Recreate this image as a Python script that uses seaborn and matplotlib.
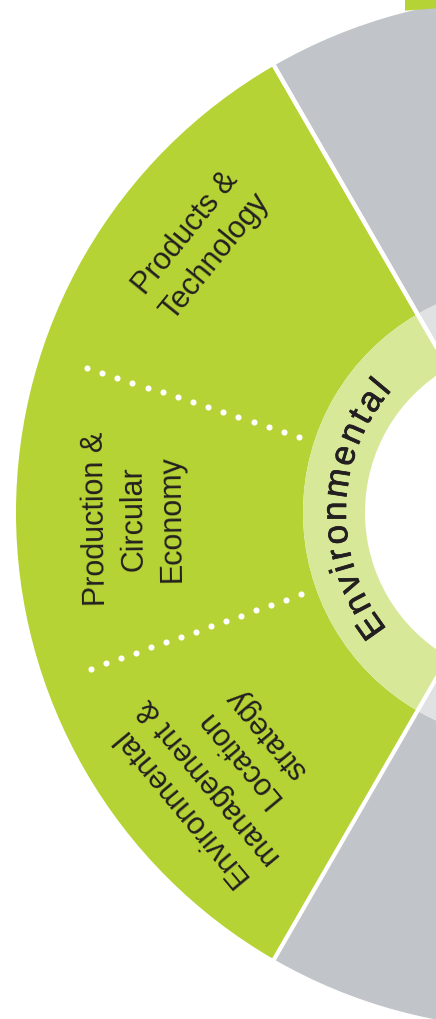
import numpy as np
import matplotlib
matplotlib.use('Agg')
import matplotlib.pyplot as plt
import matplotlib.patheffects as pe
from matplotlib.patches import Polygon
import seaborn as sns

# the three pillars of the wheel (only the left one is fully in the crop)
pillars = ['Environmental', 'Social', 'Governance']
pillar_share = [1, 1, 1]

# topics inside the Environmental pillar, share of its 120 degrees
topics = ['Products &\nTechnology',
          'Production &\nCircular\nEconomy',
          'Environmental\nmanagement &\nLocation\nstrategy']
topic_share = [42, 37.5, 40.5]

sns.set_theme(style='white')
plt.rcParams['font.family'] = ['Liberation Sans', 'DejaVu Sans']

GREEN = '#b5d334'
LIGHT_GREEN = '#d8e899'
GREY = '#c1c5c9'
LIGHT_GREY = '#e0e1e3'
INK = '#231f20'

W, H = 436, 1020
cx, cy = 532, 513.5          # wheel centre in pixels, off the canvas to the right
R_OUT, R_MID, R_IN = 516, 229, 167
start = 120

fig = plt.figure(figsize=(W / 100, H / 100), dpi=100)
ax = fig.add_axes([0, 0, 1, 1])

# outer ring + inner ring
ax.pie(pillar_share, radius=R_OUT, startangle=start, colors=[GREEN, GREY, GREY],
       wedgeprops=dict(width=R_OUT - R_MID, linewidth=0))
ax.pie(pillar_share, radius=R_MID, startangle=start,
       colors=[LIGHT_GREEN, LIGHT_GREY, LIGHT_GREY],
       wedgeprops=dict(width=R_MID - R_IN, linewidth=0))

# white gaps between the pillars
bounds = start + 360 * np.cumsum([0] + pillar_share) / sum(pillar_share)
for a in bounds:
    t = np.radians(a)
    ax.plot([R_IN * np.cos(t), (R_OUT + 5) * np.cos(t)],
            [R_IN * np.sin(t), (R_OUT + 5) * np.sin(t)], color='white', lw=3,
            solid_capstyle='butt')

# dotted dividers between the topics
cum = start + np.cumsum(topic_share)
rr = np.linspace(245, 468, 15)
for a in cum[:-1]:
    t = np.radians(a)
    ax.plot(rr * np.cos(t), rr * np.sin(t), 'o', color='white', ms=4.4, mew=0)

# topic labels
mids = cum - np.array(topic_share) / 2
label_r = [427, 398, 401]
for lab, a, r in zip(topics, mids, label_r):
    t = np.radians(a)
    ax.text(r * np.cos(t), r * np.sin(t), lab, rotation=a - 90, rotation_mode='anchor',
            ha='center', va='center', multialignment='center', linespacing=1.34,
            fontsize=22, color=INK)

# curved pillar name along the inner ring
adv = {'E': .667, 'n': .556, 'v': .5, 'i': .222, 'r': .333, 'o': .556,
       'm': .833, 'e': .556, 't': .278, 'a': .556, 'l': .222}
fs_px = 35
track = 4.3
word = pillars[0]
w = np.array([adv[c] * fs_px for c in word])
left = np.concatenate([[0], np.cumsum(w + track)[:-1]])
centres = left + w / 2
L = left[-1] + w[-1]
theta_mid = 178.8
angles = theta_mid + np.degrees((L / 2 - centres) / 198)
r_base = 186
for c, a in zip(word, angles):
    t = np.radians(a)
    ax.text(r_base * np.cos(t), r_base * np.sin(t), c, rotation=a - 90,
            rotation_mode='anchor', ha='center', va='baseline',
            fontsize=fs_px * 0.72, color=INK,
            path_effects=[pe.withStroke(linewidth=0.5, foreground=INK)])

# bit of a green tab peeking in at the top right
ax.add_patch(Polygon([(405 - cx, cy), (W - cx, cy), (W - cx, cy - 9.3), (405 - cx, cy - 11.7)],
                     closed=True, color=GREEN, lw=0))

ax.set_xlim(-cx, W - cx)
ax.set_ylim(cy - H, cy)
ax.axis('off')

fig.savefig('out.png', dpi=100)
